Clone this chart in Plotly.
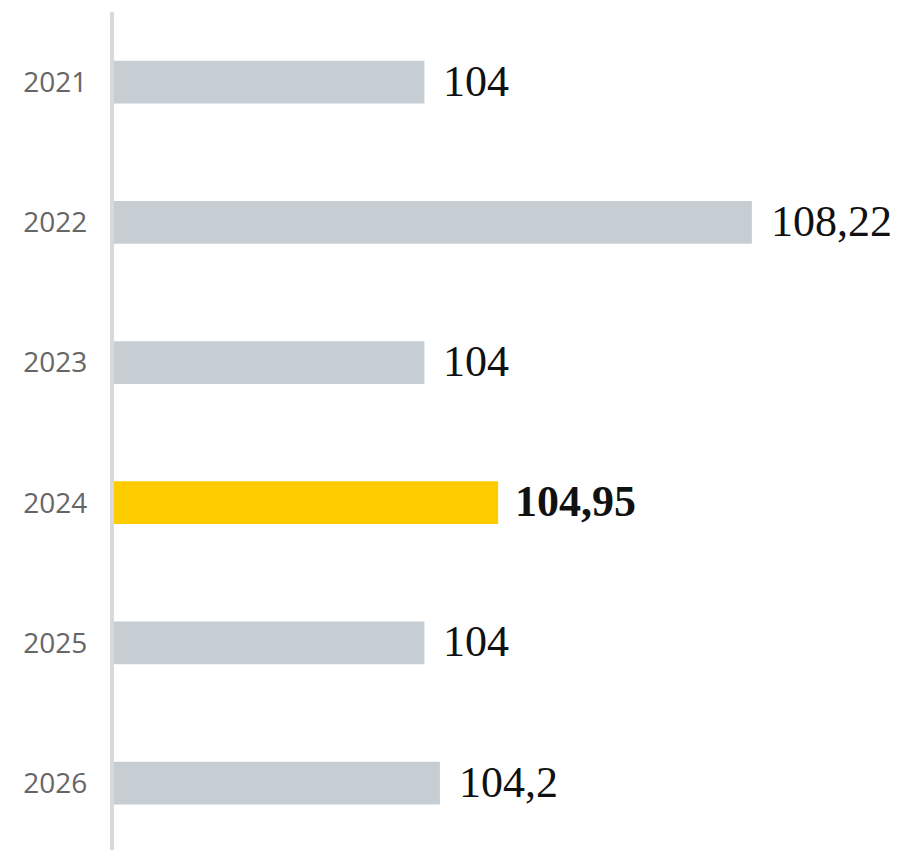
import plotly.graph_objects as go

years = ["2021", "2022", "2023", "2024", "2025", "2026"]
values = [104, 108.22, 104, 104.95, 104, 104.2]
highlight_year = "2024"

GRAY = "#c6ced4"
YELLOW = "#ffcc00"

colors = [YELLOW if y == highlight_year else GRAY for y in years]
labels = [f"{v:g}".replace(".", ",") for v in values]

fig = go.Figure(
    go.Bar(
        x=values,
        y=years,
        orientation="h",
        marker=dict(color=colors, line=dict(width=0)),
        width=0.305,
        hoverinfo="skip",
    )
)

for i, (y, v, lab) in enumerate(zip(years, values, labels)):
    txt = f"<b>{lab}</b>" if y == highlight_year else lab
    fig.add_annotation(
        x=v, y=i, xref="x", yref="y", text=txt, showarrow=False,
        xanchor="left", yanchor="middle",
        xshift=15 if y == highlight_year else 17, yshift=1,
        font=dict(family="Liberation Serif", size=44, color="#111111"),
    )

fig.update_layout(
    width=908, height=850,
    margin=dict(l=106, r=26, t=4, b=8),
    paper_bgcolor="white", plot_bgcolor="white",
    showlegend=False,
    xaxis=dict(range=[100, 110], visible=False, fixedrange=True),
    yaxis=dict(
        type="category",
        categoryorder="array", categoryarray=years,
        range=[5.477, -0.5],
        showline=True, linecolor="#d9d9d9", linewidth=4,
        showgrid=False, zeroline=False,
        ticks="outside", ticklen=17, tickcolor="rgba(0,0,0,0)",
        tickfont=dict(family="Open Sans", size=28, color="#666666"),
        fixedrange=True,
    ),
)

fig.write_html("out.html")
